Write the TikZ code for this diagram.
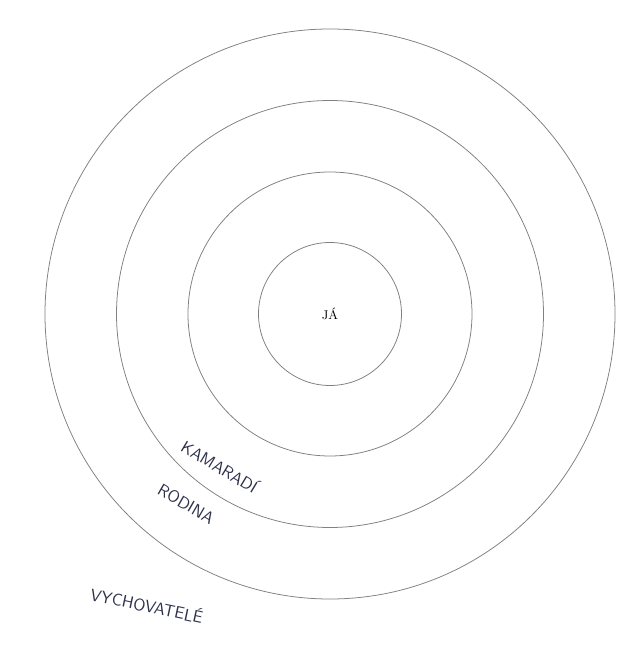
\documentclass[tikz,border=0pt]{standalone}
\definecolor{pen}{RGB}{45,48,75}
\begin{document}
\begin{tikzpicture}[x=.25mm,y=.25mm,
	ring/.style={draw=black!50,line width=.55pt},
	hand/.style={text=pen,font=\sffamily\fontsize{12}{14}\selectfont,inner sep=0pt}]
	\useasboundingbox(-330,-334)rectangle(310,314);
	\foreach\r in {71.5,142,213.5,285}\draw[ring](0,0)circle(\r);
	\node[font=\fontsize{9}{10}\selectfont](ja)at(0,0){J\'A};
	\node[hand,rotate=-31](kamaradi)at(-110,-152){KAMARAD\'I};
	\node[hand,rotate=-30](rodina)at(-144,-190){RODINA};
	\node[hand,rotate=-12](vychovatele)at(-183,-291){VYCHOVATEL\'E};
\end{tikzpicture}
\end{document}
